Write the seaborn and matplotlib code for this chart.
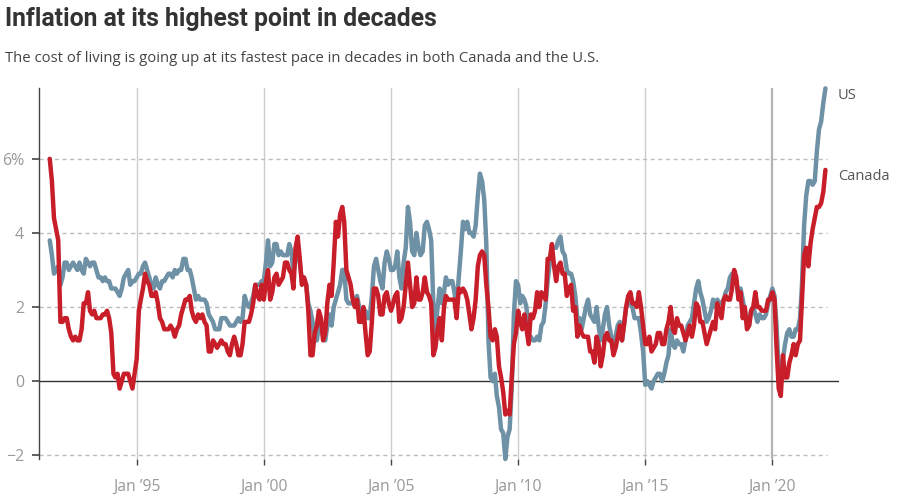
import matplotlib
matplotlib.use("Agg")
import matplotlib.pyplot as plt
import numpy as np
import pandas as pd
import seaborn as sns

# ---- data: year-over-year CPI change (%), monthly, Aug 1991 - Feb 2022 ----
start_month = "1991-08-01"

us_values = [
    3.8, 3.4, 2.9, 3.0, 3.1,                                   # 1991 Aug-Dec
    2.6, 2.8, 3.2, 3.2, 3.0, 3.1, 3.2, 3.1, 3.0, 3.2, 3.0, 2.9,  # 1992
    3.3, 3.2, 3.1, 3.2, 3.2, 3.0, 2.8, 2.8, 2.7, 2.8, 2.7, 2.7,  # 1993
    2.5, 2.5, 2.5, 2.4, 2.3, 2.5, 2.8, 2.9, 3.0, 2.6, 2.7, 2.7,  # 1994
    2.8, 2.9, 2.9, 3.1, 3.2, 3.0, 2.8, 2.6, 2.5, 2.8, 2.6, 2.5,  # 1995
    2.7, 2.7, 2.8, 2.9, 2.9, 2.8, 3.0, 2.9, 3.0, 3.0, 3.3, 3.3,  # 1996
    3.0, 3.0, 2.8, 2.5, 2.2, 2.3, 2.2, 2.2, 2.2, 2.1, 1.8, 1.7,  # 1997
    1.6, 1.4, 1.4, 1.4, 1.7, 1.7, 1.7, 1.6, 1.5, 1.5, 1.5, 1.6,  # 1998
    1.7, 1.6, 1.7, 2.3, 2.1, 2.0, 2.1, 2.3, 2.6, 2.6, 2.6, 2.7,  # 1999
    2.7, 3.2, 3.8, 3.1, 3.2, 3.7, 3.7, 3.4, 3.5, 3.4, 3.4, 3.4,  # 2000
    3.7, 3.5, 2.9, 3.3, 3.6, 3.2, 2.7, 2.7, 2.6, 2.1, 1.9, 1.6,  # 2001
    1.1, 1.1, 1.5, 1.6, 1.2, 1.1, 1.5, 1.8, 1.5, 2.0, 2.2, 2.4,  # 2002
    2.6, 3.0, 3.0, 2.2, 2.1, 2.1, 2.1, 2.2, 2.3, 2.0, 1.8, 1.9,  # 2003
    1.9, 1.7, 1.7, 2.3, 3.1, 3.3, 3.0, 2.7, 2.5, 3.2, 3.5, 3.3,  # 2004
    3.0, 3.0, 3.1, 3.5, 2.8, 2.5, 3.2, 3.6, 4.7, 4.3, 3.5, 3.4,  # 2005
    4.0, 3.6, 3.4, 3.5, 4.2, 4.3, 4.1, 3.8, 2.1, 1.3, 2.0, 2.5,  # 2006
    2.1, 2.4, 2.8, 2.6, 2.7, 2.7, 2.4, 2.0, 2.8, 3.5, 4.3, 4.1,  # 2007
    4.3, 4.0, 4.0, 3.9, 4.2, 5.0, 5.6, 5.4, 4.9, 3.7, 1.1, 0.1,  # 2008
    0.0, 0.2, -0.4, -0.7, -1.3, -1.4, -2.1, -1.5, -1.3, -0.2, 1.8, 2.7,  # 2009
    2.6, 2.1, 2.3, 2.2, 2.0, 1.1, 1.2, 1.1, 1.1, 1.2, 1.1, 1.5,  # 2010
    1.6, 2.1, 2.7, 3.2, 3.6, 3.6, 3.6, 3.8, 3.9, 3.5, 3.4, 3.0,  # 2011
    2.9, 2.9, 2.7, 2.3, 1.7, 1.7, 1.4, 1.7, 2.0, 2.2, 1.8, 1.7,  # 2012
    1.6, 2.0, 1.5, 1.1, 1.4, 1.8, 2.0, 1.5, 1.2, 1.0, 1.2, 1.5,  # 2013
    1.6, 1.1, 1.5, 2.0, 2.1, 2.1, 2.0, 1.7, 1.7, 1.7, 1.3, 0.8,  # 2014
    -0.1, 0.0, -0.1, -0.2, 0.0, 0.1, 0.2, 0.2, 0.0, 0.2, 0.5, 0.7,  # 2015
    1.4, 1.0, 0.9, 1.1, 1.0, 1.0, 0.8, 1.1, 1.5, 1.6, 1.7, 2.1,  # 2016
    2.5, 2.7, 2.4, 2.2, 1.9, 1.6, 1.7, 1.9, 2.2, 2.0, 2.2, 2.1,  # 2017
    2.1, 2.2, 2.4, 2.5, 2.8, 2.9, 2.9, 2.7, 2.3, 2.5, 2.2, 1.9,  # 2018
    1.6, 1.5, 1.9, 2.0, 1.8, 1.6, 1.8, 1.7, 1.7, 1.8, 2.1, 2.3,  # 2019
    2.5, 2.3, 1.5, 0.3, 0.1, 0.6, 1.0, 1.3, 1.4, 1.2, 1.2, 1.4,  # 2020
    1.4, 1.7, 2.6, 4.2, 5.0, 5.4, 5.4, 5.3, 5.4, 6.2, 6.8, 7.0,  # 2021
    7.5, 7.9,                                                    # 2022
]

canada_values = [
    6.0, 5.4, 4.4, 4.1, 3.8,                                   # 1991 Aug-Dec
    1.6, 1.6, 1.7, 1.7, 1.4, 1.2, 1.1, 1.2, 1.1, 1.1, 1.4, 2.1,  # 1992
    2.1, 2.4, 1.9, 1.8, 1.9, 1.7, 1.7, 1.7, 1.8, 1.8, 1.9, 1.7,  # 1993
    1.3, 0.2, 0.1, 0.2, -0.2, 0.0, 0.2, 0.2, 0.2, 0.0, -0.2, 0.2,  # 1994
    0.6, 1.9, 2.2, 2.5, 2.9, 2.7, 2.6, 2.3, 2.3, 2.4, 2.1, 1.7,  # 1995
    1.6, 1.4, 1.4, 1.4, 1.5, 1.4, 1.2, 1.4, 1.5, 1.8, 2.0, 2.2,  # 1996
    2.2, 2.3, 1.9, 1.7, 1.6, 1.8, 1.7, 1.8, 1.6, 1.5, 0.8, 0.8,  # 1997
    1.1, 1.0, 0.9, 1.0, 1.1, 1.0, 1.0, 0.8, 0.7, 1.0, 1.2, 1.0,  # 1998
    0.7, 0.7, 1.0, 1.6, 1.6, 1.6, 1.8, 2.1, 2.6, 2.3, 2.2, 2.6,  # 1999
    2.2, 2.7, 3.0, 2.2, 2.4, 2.8, 2.9, 2.6, 2.7, 2.8, 3.2, 3.2,  # 2000
    3.0, 2.9, 2.5, 3.6, 3.9, 3.3, 2.6, 2.8, 2.6, 1.9, 0.7, 0.7,  # 2001
    1.3, 1.5, 1.9, 1.7, 1.1, 1.3, 2.1, 2.6, 2.3, 3.2, 4.3, 3.9,  # 2002
    4.5, 4.7, 4.3, 3.0, 2.8, 2.6, 2.2, 2.0, 2.2, 1.6, 1.6, 2.0,  # 2003
    1.3, 0.7, 0.8, 1.6, 2.5, 2.5, 2.3, 1.8, 1.8, 2.3, 2.4, 2.1,  # 2004
    1.9, 2.1, 2.3, 2.4, 1.6, 1.7, 2.0, 2.6, 3.2, 2.6, 2.0, 2.1,  # 2005
    2.8, 2.2, 2.2, 2.4, 2.8, 2.4, 2.3, 2.1, 0.7, 0.9, 1.4, 1.7,  # 2006
    1.1, 2.0, 2.3, 2.2, 2.2, 2.2, 2.2, 1.7, 2.5, 2.4, 2.5, 2.4,  # 2007
    2.2, 1.8, 1.4, 1.7, 2.2, 3.1, 3.4, 3.5, 3.4, 2.6, 2.0, 1.2,  # 2008
    1.1, 1.4, 1.2, 0.4, 0.1, -0.3, -0.9, -0.8, -0.9, 0.1, 1.0, 1.3,  # 2009
    1.9, 1.6, 1.4, 1.8, 1.4, 1.0, 1.8, 1.7, 1.9, 2.4, 2.0, 2.4,  # 2010
    2.3, 2.2, 3.3, 3.3, 3.7, 3.1, 2.7, 3.1, 3.2, 2.9, 2.9, 2.3,  # 2011
    2.5, 2.6, 1.9, 2.0, 1.2, 1.5, 1.3, 1.2, 1.2, 1.2, 0.8, 0.8,  # 2012
    0.5, 1.2, 1.0, 0.4, 0.7, 1.2, 1.3, 1.1, 1.1, 0.7, 0.9, 1.2,  # 2013
    1.5, 1.1, 1.5, 2.0, 2.3, 2.4, 2.1, 2.1, 2.0, 2.4, 2.0, 1.5,  # 2014
    1.0, 1.0, 1.2, 0.8, 0.9, 1.0, 1.3, 1.3, 1.0, 1.0, 1.4, 1.6,  # 2015
    2.0, 1.4, 1.3, 1.7, 1.5, 1.5, 1.3, 1.1, 1.3, 1.5, 1.2, 1.5,  # 2016
    2.1, 2.0, 1.6, 1.6, 1.3, 1.0, 1.2, 1.4, 1.6, 1.4, 2.1, 1.9,  # 2017
    1.7, 2.2, 2.3, 2.2, 2.2, 2.5, 3.0, 2.8, 2.2, 2.4, 1.7, 2.0,  # 2018
    1.4, 1.5, 1.9, 2.0, 2.4, 2.0, 2.0, 1.9, 1.9, 1.9, 2.2, 2.2,  # 2019
    2.4, 2.2, 0.9, -0.2, -0.4, 0.7, 0.1, 0.1, 0.5, 0.7, 1.0, 0.7,  # 2020
    1.0, 1.1, 2.2, 3.4, 3.6, 3.1, 3.7, 4.1, 4.4, 4.7, 4.7, 4.8,  # 2021
    5.1, 5.7,                                                    # 2022
]

series_names = ["US", "Canada"]
y_ticks = [-2, 0, 2, 4, 6]
y_tick_labels = ["\u22122", "0", "2", "4", "6%"]
x_tick_years = [1995, 2000, 2005, 2010, 2015, 2020]
x_tick_labels = ["Jan \u201995", "Jan \u201900", "Jan \u201905", "Jan \u201910", "Jan \u201915", "Jan \u201920"]

title = "Inflation at its highest point in decades"
subtitle = "The cost of living is going up at its fastest pace in decades in both Canada and the U.S."

# ---- build long table ----
dates = pd.date_range(start_month, periods=len(us_values), freq="MS")
df = pd.concat([
    pd.DataFrame({"date": dates, "value": us_values, "country": "US"}),
    pd.DataFrame({"date": dates, "value": canada_values, "country": "Canada"}),
])

sns.set_theme(style="white")
plt.rcParams["font.family"] = ["Open Sans", "DejaVu Sans"]

W, H = 900, 501
fig = plt.figure(figsize=(9, 5.01), dpi=100)
ax_left, ax_right, ax_top, ax_bottom = 39.3, 839, 88, 459
ax = fig.add_axes([ax_left / W, 1 - ax_bottom / H, (ax_right - ax_left) / W, (ax_bottom - ax_top) / H])

palette = {"US": "#6e91a6", "Canada": "#c81e2a"}
sns.lineplot(data=df, x="date", y="value", hue="country", hue_order=series_names,
             palette=palette, linewidth=3.2, ax=ax, legend=False, zorder=5)
for ln in ax.get_lines():
    ln.set_clip_on(False)
    ln.set_solid_joinstyle("round")
    ln.set_solid_capstyle("round")

ax.set_xlim(pd.Timestamp("1991-03-04"), pd.Timestamp("2022-08-15"))
ax.set_ylim(-2.1, 7.91)

# grid
tick_dates = [pd.Timestamp(f"{y}-01-01") for y in x_tick_years]
for d in tick_dates:
    c = "#b4b4b4" if d.year == 2020 else "#cccccc"
    lw = 1.6 if d.year == 2020 else 1.0
    ax.axvline(d, color=c, lw=lw, zorder=1)
for yv in y_ticks:
    if yv == 0:
        ax.axhline(0, color="#333333", lw=1.0, zorder=2)
    else:
        ax.axhline(yv, color="#bdbdbd", lw=1.0, ls=(0, (3, 2.5)), zorder=1, xmax=0.985)

ax.set_xticks(tick_dates)
ax.set_xticklabels(x_tick_labels)
ax.set_yticks(y_ticks)
ax.set_yticklabels(y_tick_labels)
ax.tick_params(axis="x", length=4, width=1, color="#444444", pad=10, labelsize=11.3, labelcolor="#999999",
               direction="out", bottom=True)
ax.tick_params(axis="y", length=5, width=1.2, color="#444444", pad=6, labelsize=11.5, labelcolor="#999999",
               direction="out", left=True)
ax.set_xlabel("")
ax.set_ylabel("")

for s in ["top", "right", "bottom"]:
    ax.spines[s].set_visible(False)
ax.spines["left"].set_color("#444444")
ax.spines["left"].set_linewidth(1.0)

# series labels
ax.annotate("US", xy=(dates[-1], us_values[-1]), xytext=(9, -5), textcoords="offset points",
            fontsize=10.5, color="#555555", va="center", ha="left")
ax.annotate("Canada", xy=(dates[-1], canada_values[-1]), xytext=(9, -4.5), textcoords="offset points",
            fontsize=10.5, color="#555555", va="center", ha="left")

fig.text(5 / W, 1 - 19 / H, title, fontsize=17.8, fontweight="bold", color="#333333",
         va="center", ha="left", family=["Roboto", "DejaVu Sans"])
fig.text(5 / W, 1 - 58 / H, subtitle, fontsize=10.75, color="#444444", va="center", ha="left")

fig.savefig("out.png", dpi=100)
